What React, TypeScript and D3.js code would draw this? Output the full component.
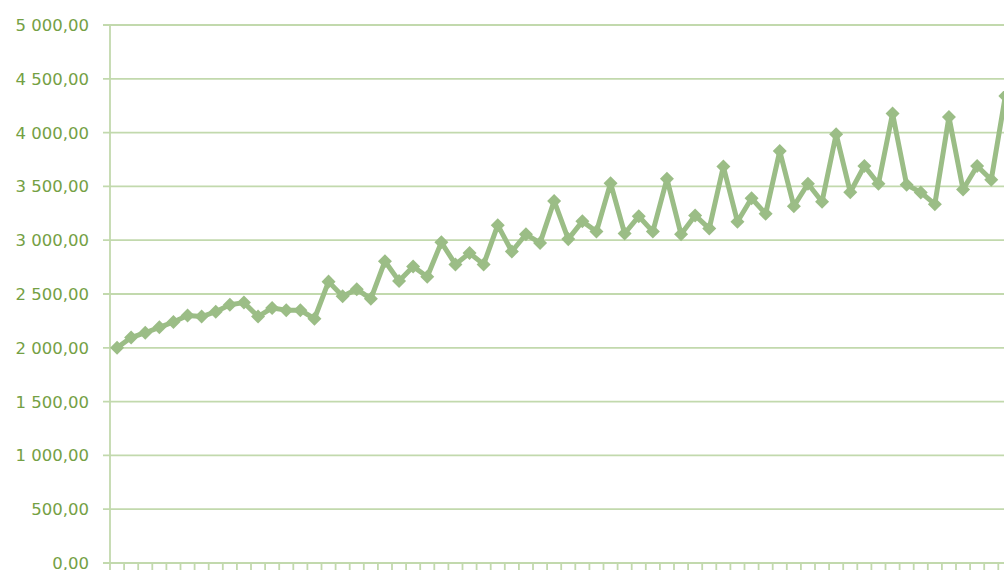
import React, { useEffect } from "react";
import * as d3 from "d3";

// one value per period
const values = [
  2000, 2095, 2140, 2190, 2240, 2300, 2290, 2335, 2400, 2420,
  2290, 2370, 2350, 2350, 2270, 2615, 2480, 2545, 2455, 2805,
  2620, 2755, 2660, 2980, 2775, 2880, 2775, 3140, 2895, 3055,
  2975, 3365, 3010, 3175, 3080, 3530, 3062, 3222, 3080, 3570,
  3055, 3230, 3108, 3685, 3172, 3390, 3245, 3828, 3316, 3525,
  3358, 3985, 3446, 3690, 3525, 4178, 3515, 3444, 3335, 4145,
  3472, 3690, 3562, 4340,
];
const categories = values.map((_, i) => String(i + 1));
const yTicks = [0, 500, 1000, 1500, 2000, 2500, 3000, 3500, 4000, 4500, 5000];

const W = 1004;
const H = 570;
const margin = { top: 25, left: 110, bottom: 7 };
const step = 14.1;

const lineColor = "#9bbd86";
const gridColor = "#c2d9ad";
const labelColor = "#74a044";

const fmt = (v: number) => {
  const [int, dec] = v.toFixed(2).split(".");
  return int.replace(/\B(?=(\d{3})+(?!\d))/g, " ") + "," + dec;
};

const App: React.FC = () => {
  useEffect(() => {
    document.body.style.margin = "0";
    document.body.style.overflow = "hidden";
  }, []);

  const x = d3
    .scaleBand()
    .domain(categories)
    .range([margin.left, margin.left + categories.length * step]);

  const y = d3
    .scaleLinear()
    .domain([0, 5000])
    .range([H - margin.bottom, margin.top]);

  const cx = (i: number) => x(categories[i])! + x.bandwidth() / 2;

  const line = d3
    .line<number>()
    .x((_, i) => cx(i))
    .y((d) => y(d));

  const diamond = d3.symbol().type(d3.symbolDiamond2).size(125)();

  const bottom = y(0);
  const tickXs = d3.range(categories.length + 1).map((i) => margin.left + i * x.step());

  return (
    <svg width={W} height={H} style={{ position: "absolute", left: 0, top: 0, display: "block" }}>
      {/* horizontal gridlines + left tick marks */}
      {yTicks.map((t) => (
        <g key={t}>
          <line
            x1={margin.left - 7}
            x2={W}
            y1={y(t)}
            y2={y(t)}
            stroke={gridColor}
            strokeWidth={1.8}
          />
          <text
            x={89}
            y={y(t)}
            dy="0.36em"
            textAnchor="end"
            fill={labelColor}
            fontFamily="'DejaVu Sans', Verdana, sans-serif"
            fontSize={16.5}
          >
            {fmt(t)}
          </text>
        </g>
      ))}

      {/* y axis */}
      <line x1={margin.left} x2={margin.left} y1={margin.top} y2={bottom} stroke={gridColor} strokeWidth={1.8} />

      {/* x axis ticks */}
      {tickXs.map((tx, i) => (
        <line key={i} x1={tx} x2={tx} y1={bottom} y2={bottom + 7} stroke={gridColor} strokeWidth={1.8} />
      ))}

      {/* series */}
      <path d={line(values) ?? ""} fill="none" stroke={lineColor} strokeWidth={5} strokeLinejoin="round" />
      {values.map((v, i) => (
        <path key={i} d={diamond ?? ""} transform={`translate(${cx(i)},${y(v)})`} fill={lineColor} />
      ))}
    </svg>
  );
};

export default App;
